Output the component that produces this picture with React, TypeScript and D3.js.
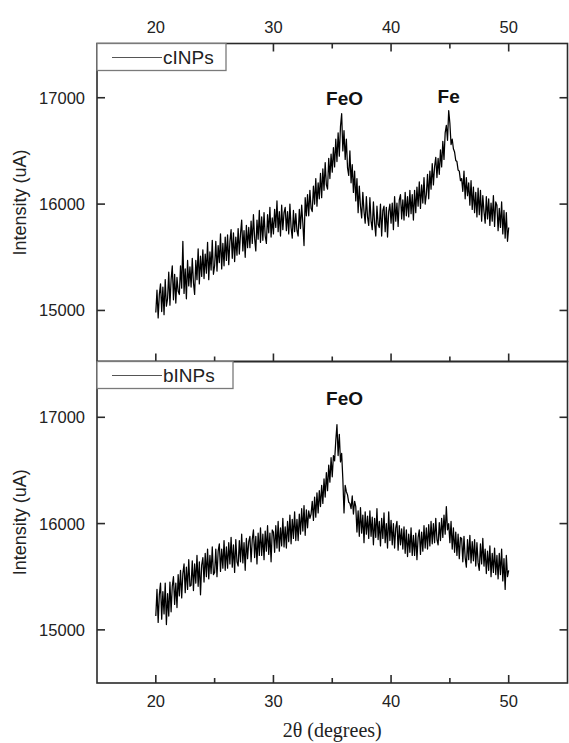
import React from "react";
import * as d3 from "d3";

// 2θ grid: 20.0 … 50.0 in 0.1° steps
const X_START = 20;
const X_STEP = 0.1;

const cINPs: number[] = [
  14980, 15190, 14930, 15150, 15250, 14990, 15220, 14960, 15290, 15040,
  15110, 15360, 15050, 15290, 15420, 15100, 15340, 15070, 15310, 15180,
  15150, 15420, 15210, 15650, 15160, 15390, 15110, 15470, 15230, 15410,
  15220, 15490, 15260, 15150, 15470, 15290, 15580, 15250, 15510, 15320,
  15570, 15300, 15530, 15350, 15640, 15290, 15550, 15380, 15660, 15340,
  15420, 15650, 15370, 15610, 15450, 15720, 15390, 15630, 15420, 15690,
  15470, 15710, 15430, 15650, 15760, 15490, 15730, 15460, 15690, 15520,
  15770, 15530, 15720, 15850, 15560, 15750, 15500, 15800, 15590, 15780,
  15590, 15840, 15630, 15900, 15680, 15560, 15850, 15670, 15940, 15640,
  15880, 15660, 15920, 15700, 15630, 15900, 15730, 15970, 15690, 15870,
  15720, 15950, 15780, 16030, 15740, 15930, 15700, 15990, 15760, 15920,
  15970, 15750, 15930, 15720, 16000, 15780, 15680, 15940, 15740, 15910,
  15750, 15700, 15950, 15770, 15990, 15820, 15610, 16060, 15890, 16090,
  15890, 16130, 15960, 15930, 16170, 16000, 16240, 15980, 16200, 16050,
  16290, 16060, 16330, 16130, 16390, 16180, 16140, 16430, 16240, 16470,
  16300, 16530, 16350, 16610, 16400, 16670, 16450, 16730, 16850, 16500,
  16690, 16420, 16610, 16340, 16270, 16500, 16200, 16370, 16110, 16310,
  16030, 16240, 15920, 16170, 15980, 15870, 16110, 15930, 15820, 16070,
  15880, 15800, 16060, 15840, 15760, 16020, 15820, 15700, 15980, 15810,
  15780, 16000, 15700, 15940, 15980, 15740, 15970, 15690, 15930, 16000,
  15820, 16010, 15760, 16070, 15840, 16010, 15790, 16040, 16090, 15860,
  16040, 15850, 16110, 15890, 16070, 15880, 16130, 15910, 16090, 15850,
  16130, 15920, 16160, 15980, 16210, 15960, 16180, 16010, 16250, 16000,
  16090, 16280, 16050, 16310, 16140, 16380, 16180, 16350, 16440, 16250,
  16430, 16280, 16510, 16350, 16590, 16420, 16670, 16740, 16600, 16880,
  16760, 16560, 16610, 16520, 16490, 16410, 16400, 16320, 16310, 16220,
  16240, 16120, 16310, 16050, 16250, 16080, 16200, 15990, 16220, 15950,
  16160, 15920, 16110, 15880, 16150, 15900, 16130, 15840, 16080, 15930,
  15820, 16070, 15860, 16050, 15800, 16010, 15840, 16080, 15790, 16020,
  15990, 15750, 15960, 15780, 16020, 15720, 15940, 15680, 15920, 15650,
  15780,
];

const bINPs: number[] = [
  15130, 15380, 15070, 15330, 15440, 15100, 15360, 15150, 15440, 15050,
  15340, 15130, 15450, 15170, 15410, 15500, 15240, 15440, 15210, 15520,
  15320, 15560, 15300, 15530, 15620, 15350, 15590, 15380, 15660, 15410,
  15420, 15650, 15370, 15620, 15440, 15700, 15410, 15640, 15330, 15610,
  15680, 15450, 15720, 15500, 15760, 15480, 15700, 15530, 15780, 15520,
  15540, 15760, 15500, 15740, 15810, 15550, 15760, 15580, 15840, 15560,
  15780, 15580, 15820, 15620, 15870, 15590, 15800, 15540, 15850, 15640,
  15600, 15840, 15640, 15900, 15630, 15820, 15560, 15860, 15670, 15830,
  15880, 15640, 15850, 15940, 15680, 15880, 15620, 15910, 15700, 15960,
  15700, 15900, 15660, 15930, 15740, 15980, 15710, 15910, 15640, 15940,
  15920, 15730, 15980, 15770, 16020, 15740, 15960, 15790, 16050, 15780,
  15970, 15770, 16020, 15830, 16080, 15810, 16040, 15860, 16110, 15840,
  16040, 15840, 16090, 15900, 16140, 15930, 16170, 15890, 16130, 15960,
  16120, 16050, 16090, 16210, 16030, 16250, 16060, 16290, 16100, 16310,
  16160, 16360, 16190, 16420, 16250, 16480, 16310, 16550, 16390, 16620,
  16440, 16640, 16590, 16780, 16930, 16640, 16840, 16580, 16660, 16420,
  16100, 16360, 16300, 16270, 16200, 16190, 16140, 16260, 16090, 16210,
  16160, 15920, 16120, 15880, 16150, 15910, 16080, 15820, 16110, 15900,
  16070, 15860, 16120, 15880, 16060, 15800, 16050, 15870, 16140, 15850,
  16020, 15790, 16050, 15860, 16100, 15820, 16000, 15770, 16110, 15840,
  16030, 15800, 16000, 15770, 15960, 16020, 15750, 15980, 15800, 15950,
  15760, 15970, 15720, 15940, 15690, 15900, 15730, 15960, 15700, 15890,
  15700, 15910, 15660, 15870, 15940, 15710, 15920, 15740, 15980, 15770,
  15960, 15760, 15990, 15790, 16020, 15810, 16000, 15820, 16050, 15850,
  15800, 16010, 15840, 16050, 15870, 16080, 15900, 16160, 15940, 16000,
  15820, 16020, 15760, 15960, 15730, 15920, 15700, 15900, 15670, 15870,
  15860, 15640, 15880, 15680, 15590, 15850, 15660, 15890, 15630, 15830,
  15650, 15850, 15600, 15820, 15630, 15560, 15810, 15620, 15860, 15600,
  15760, 15530, 15740, 15560, 15790, 15500, 15720, 15540, 15770, 15520,
  15700, 15480, 15720, 15520, 15760, 15460, 15670, 15380, 15700, 15500,
  15560,
];

const X_DOMAIN: [number, number] = [15, 55];
const X_MAJOR = [20, 30, 40, 50];
const X_MINOR = [25, 35, 45];
const Y_TICKS = [15000, 16000, 17000];
const TOP_Y_DOMAIN: [number, number] = [14520, 17510];
const BOT_Y_DOMAIN: [number, number] = [14500, 17525];

const TOP_LABELS = [
  { text: "FeO", x: 36.05, y: 16930 },
  { text: "Fe", x: 44.9, y: 16950 },
];
const BOT_LABELS = [{ text: "FeO", x: 36.05, y: 17120 }];

const W = 569;
const H = 743;
const L = 97;
const R = 567.5;
const TOP_T = 43.5;
const MID = 361.5;
const BOT_B = 683;

const SANS = "'Liberation Sans', Arial, sans-serif";
const SERIF = "'Liberation Serif', 'Times New Roman', serif";
const AX = "#2a2a2a";

export default function App() {
  const x = d3.scaleLinear().domain(X_DOMAIN).range([L, R]);
  const yTop = d3.scaleLinear().domain(TOP_Y_DOMAIN).range([MID, TOP_T]);
  const yBot = d3.scaleLinear().domain(BOT_Y_DOMAIN).range([BOT_B, MID]);

  const mkLine = (y: d3.ScaleLinear<number, number>) =>
    d3
      .line<number>()
      .x((_, i) => x(X_START + i * X_STEP))
      .y((v) => y(v));

  const panel = (
    y: d3.ScaleLinear<number, number>,
    top: number,
    bottom: number,
    data: number[],
    name: string,
    legendW: number,
    labels: { text: string; x: number; y: number }[],
    topTicks: boolean,
    topLabels: boolean,
    bottomLabels: boolean
  ) => (
    <g>
      <path d={mkLine(y)(data) ?? ""} fill="none" stroke="#000" strokeWidth={1.25} strokeLinejoin="round" />
      <rect x={L} y={top} width={R - L} height={bottom - top} fill="none" stroke={AX} strokeWidth={1.6} />
      {X_MAJOR.map((t) => (
        <g key={"M" + t}>
          <line x1={x(t)} x2={x(t)} y1={bottom} y2={bottom - 8} stroke={AX} strokeWidth={1.6} />
          {topTicks && <line x1={x(t)} x2={x(t)} y1={top} y2={top + 8} stroke={AX} strokeWidth={1.6} />}
        </g>
      ))}
      {X_MINOR.map((t) => (
        <g key={"m" + t}>
          <line x1={x(t)} x2={x(t)} y1={bottom} y2={bottom - 5} stroke={AX} strokeWidth={1.6} />
          {topTicks && <line x1={x(t)} x2={x(t)} y1={top} y2={top + 5} stroke={AX} strokeWidth={1.6} />}
        </g>
      ))}
      {topLabels &&
        X_MAJOR.map((t) => (
          <text key={"tl" + t} x={x(t)} y={top - 10.5} textAnchor="middle" fontSize={16.5} fontFamily={SANS} fill="#222">
            {t}
          </text>
        ))}
      {bottomLabels &&
        X_MAJOR.map((t) => (
          <text key={"bl" + t} x={x(t)} y={bottom + 24} textAnchor="middle" fontSize={16.5} fontFamily={SANS} fill="#222">
            {t}
          </text>
        ))}
      {Y_TICKS.map((t) => (
        <g key={"y" + t}>
          <line x1={L} x2={L + 8} y1={y(t)} y2={y(t)} stroke={AX} strokeWidth={1.6} />
          <line x1={R} x2={R - 8} y1={y(t)} y2={y(t)} stroke={AX} strokeWidth={1.6} />
          <text x={85} y={y(t)} dy="0.36em" textAnchor="end" fontSize={16.5} fontFamily={SANS} fill="#222">
            {t}
          </text>
        </g>
      ))}
      <text
        transform={`translate(26,${(top + bottom) / 2}) rotate(-90)`}
        textAnchor="middle"
        fontSize={18}
        fontFamily={SANS}
        fill="#222"
      >
        Intensity (uA)
      </text>
      <rect x={L} y={top} width={legendW} height={27} fill="#fff" stroke="#7a7a7a" strokeWidth={1.3} />
      <line x1={112} x2={162} y1={top + 14} y2={top + 14} stroke="#555" strokeWidth={1} />
      <text x={163} y={top + 20.5} fontSize={19} fontFamily={SANS} fill="#222">
        {name}
      </text>
      {labels.map((lb) => (
        <text key={lb.text + lb.x} x={x(lb.x)} y={y(lb.y)} textAnchor="middle" fontSize={19} fontWeight="bold" fontFamily={SANS} fill="#111">
          {lb.text}
        </text>
      ))}
    </g>
  );

  return (
    <svg width={W} height={H} style={{ position: "absolute", left: 0, top: 0, background: "#fff" }}>
      <rect x={0} y={0} width={W} height={H} fill="#fff" />
      {panel(yTop, TOP_T, MID, cINPs, "cINPs", 129, TOP_LABELS, true, true, false)}
      {panel(yBot, MID, BOT_B, bINPs, "bINPs", 136, BOT_LABELS, false, false, true)}
      <text x={(L + R) / 2} y={737} textAnchor="middle" fontSize={20} fontFamily={SERIF} fill="#222">
        2θ (degrees)
      </text>
    </svg>
  );
}
